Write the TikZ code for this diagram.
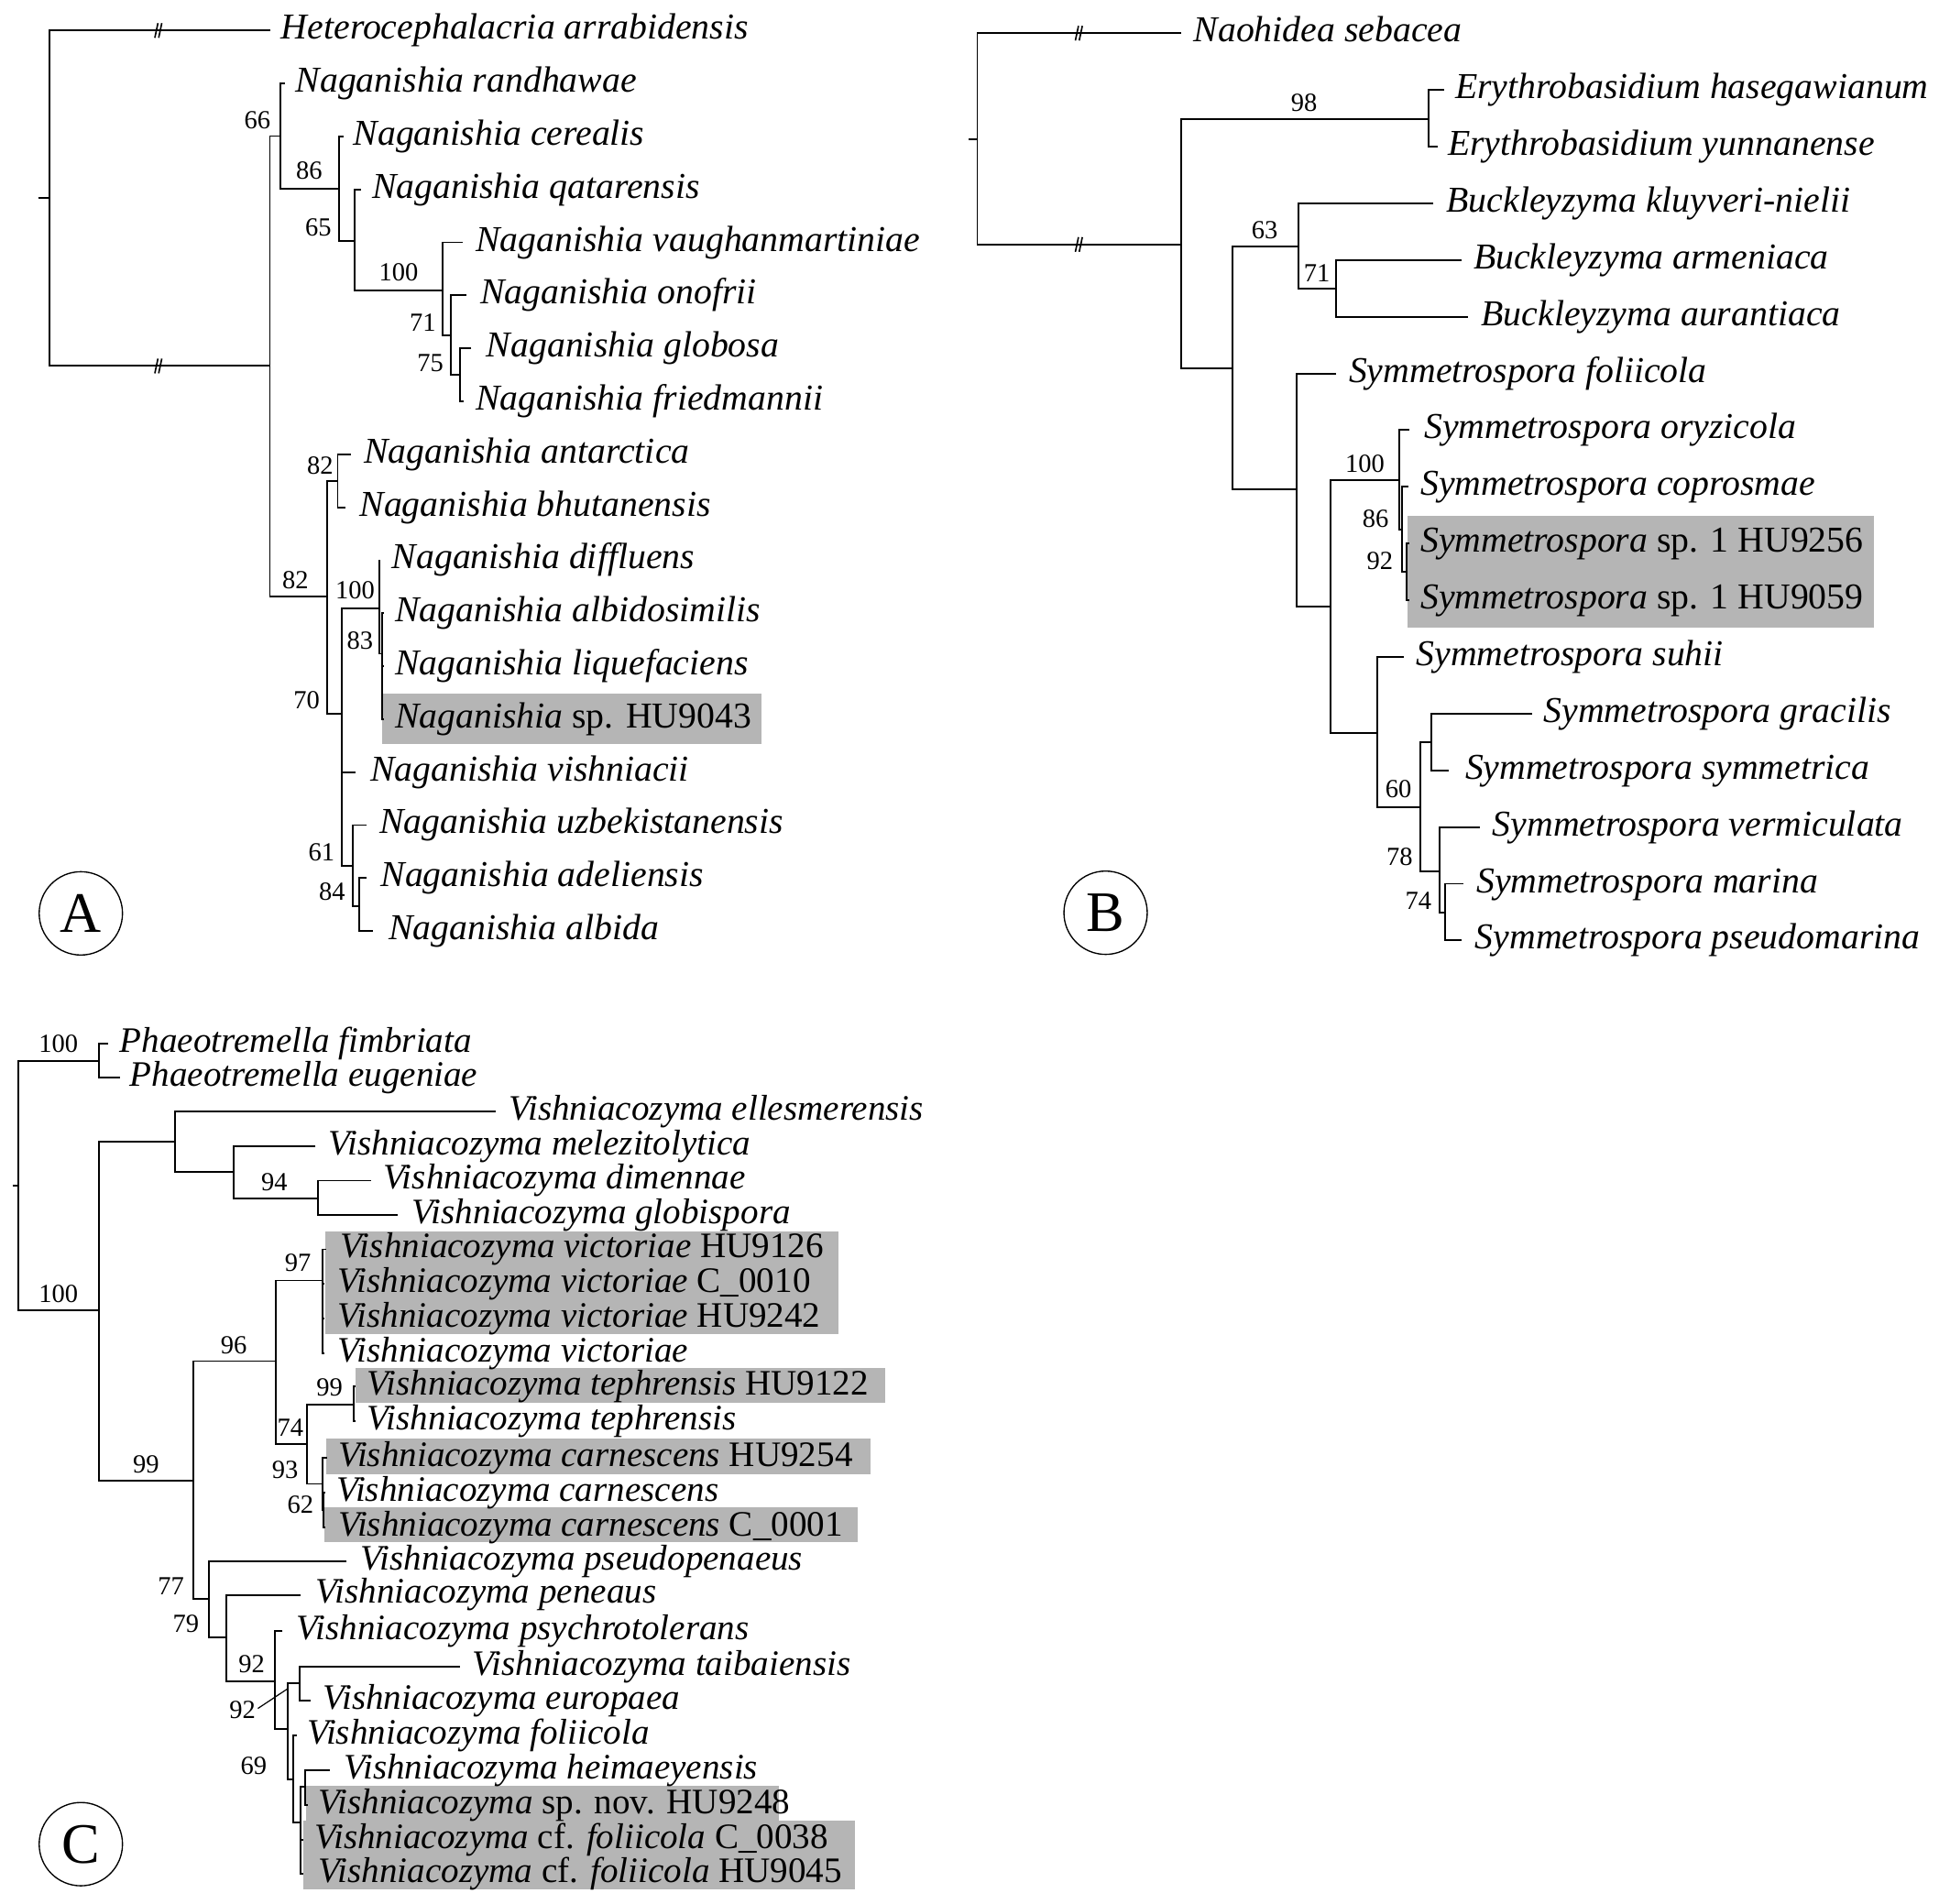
\documentclass[tikz,border=0pt]{standalone}
\usepackage{fontspec}
\setmainfont{Liberation Serif}
\begin{document}
\begin{tikzpicture}[x=1pt,y=-1pt,
  br/.style={line width=1.4pt},
  tA/.style={anchor=west, inner sep=0pt, font=\fontsize{29.3}{32}\selectfont\itshape, text height=20.5pt, text depth=6.5pt},
  tC/.style={anchor=west, inner sep=0pt, font=\fontsize{28.8}{30}\selectfont\itshape, text height=20.2pt, text depth=6.3pt},
  bs/.style={inner sep=0pt, font=\fontsize{21}{22}\selectfont, text height=14.5pt, text depth=0pt},
  hl/.style={fill=black!29, draw=none},
  pnl/.style={circle, draw, line width=1pt, minimum size=67pt, inner sep=0pt, font=\fontsize{46}{48}\selectfont, text height=30.4pt, text depth=0pt},
  brk/.pic={\draw[line width=1.2pt] (-2.8,5.9) -- (-0.3,-5.9); \draw[line width=1.2pt] (0.3,5.9) -- (2.8,-5.9);}
]
\useasboundingbox (0,0) rectangle (1568,1531);

% ---------------- highlight boxes ----------------
\fill[hl] (307.5,557.5) rectangle (612.5,598);
\fill[hl] (1132,415) rectangle (1507,505);
\fill[hl] (261.6,990.4) rectangle (674.4,1073);
\fill[hl] (285.8,1100) rectangle (712,1127.8);
\fill[hl] (262.3,1157) rectangle (700.3,1185.7);
\fill[hl] (260.9,1212.4) rectangle (690,1240.2);
\fill[hl] (246.1,1435.8) rectangle (626,1464);
\fill[hl] (243.7,1464) rectangle (687.1,1519.3);

% ================= PANEL A =================
\coordinate (aR) at (39.8,159.4);
\coordinate (aRt) at (30.7,159.4);
\coordinate (aHet) at (217.4,24.5);
\coordinate (a1) at (217,294.3);
\coordinate (a66) at (225.5,109.4);
\coordinate (aRan) at (229,67.1);
\coordinate (a86) at (272.5,151.7);
\coordinate (aCer) at (276,109.7);
\coordinate (a65) at (285,193.5);
\coordinate (aQat) at (290,152.3);
\coordinate (a100) at (356,233.5);
\coordinate (aVau) at (372,194.9);
\coordinate (a71) at (362.5,270);
\coordinate (aOno) at (375,237.5);
\coordinate (a75) at (370,301.4);
\coordinate (aGlo) at (379,280.1);
\coordinate (aFri) at (372.5,322.7);
\coordinate (a82) at (262.8,479.5);
\coordinate (a82u) at (271.5,386.6);
\coordinate (aAnt) at (282,365.3);
\coordinate (aBhu) at (277.5,407.9);
\coordinate (a70) at (275.1,574.3);
\coordinate (a100b) at (305.1,489.3);
\coordinate (aDif) at (305.1,450.5);
\coordinate (a83) at (307.5,525.7);
\coordinate (aAlb) at (308.5,493.1);
\coordinate (aLiq) at (308.5,535.7);
\coordinate (aHU) at (308.5,578.3);
\coordinate (aVis) at (286,620.9);
\coordinate (a61) at (284,696);
\coordinate (aUzb) at (295,663.5);
\coordinate (a84) at (289,728.5);
\coordinate (aAde) at (295,706.1);
\coordinate (aAlbi) at (300,748.7);

\draw[br] (aHet) -| (aR) |- (a1);
\draw[br] (aRt) -- (aR);
\draw[br] (a66) -| (a1) |- (a82);
\draw[br] (aRan) -| (a66) |- (a86);
\draw[br] (aCer) -| (a86) |- (a65);
\draw[br] (aQat) -| (a65) |- (a100);
\draw[br] (aVau) -| (a100) |- (a71);
\draw[br] (aOno) -| (a71) |- (a75);
\draw[br] (aGlo) -| (a75) |- (aFri);
\draw[br] (a82u) -| (a82) |- (a70);
\draw[br] (aAnt) -| (a82u) |- (aBhu);
\draw[br] (a100b) -| (a70) |- (a61);
\draw[br] (a70 |- aVis) -- (aVis);
\draw[br] (aDif) -| (a100b) |- (a83);
\draw[br] (aAlb) -| (a83) |- (aHU);
\draw[br] (a83 |- aLiq) -- (aLiq);
\draw[br] (aUzb) -| (a61) |- (a84);
\draw[br] (aAde) -| (a84) |- (aAlbi);
\pic at (127.3,24.5) {brk};
\pic at (127.3,294.3) {brk};

\node[tA] (lHet) at (226,24.5) {Heterocephalacria arrabidensis};
\node[tA] (lRan) at (237.5,67.1) {Naganishia randhawae};
\node[tA] (lCer) at (284,109.7) {Naganishia cerealis};
\node[tA] (lQat) at (299,152.3) {Naganishia qatarensis};
\node[tA] (lVau) at (382.5,194.9) {Naganishia vaughanmartiniae};
\node[tA] (lOno) at (386,237.5) {Naganishia onofrii};
\node[tA] (lGlo) at (391,280.1) {Naganishia globosa};
\node[tA] (lFri) at (382.5,322.7) {Naganishia friedmannii};
\node[tA] (lAnt) at (292.5,365.3) {Naganishia antarctica};
\node[tA] (lBhu) at (289,407.9) {Naganishia bhutanensis};
\node[tA] (lDif) at (315,450.5) {Naganishia diffluens};
\node[tA] (lAlb) at (317.5,493.1) {Naganishia albidosimilis};
\node[tA] (lLiq) at (317.5,535.7) {Naganishia liquefaciens};
\node[tA] (lHU) at (317.5,578.3) {Naganishia \upshape sp. HU9043};
\node[tA] (lVis) at (297.5,620.9) {Naganishia vishniacii};
\node[tA] (lUzb) at (305,663.5) {Naganishia uzbekistanensis};
\node[tA] (lAde) at (306,706.1) {Naganishia adeliensis};
\node[tA] (lAlbi) at (312.5,748.7) {Naganishia albida};

\node[bs] (sA1) at (207,96.5) {66};
\node[bs] (sA2) at (248.5,137) {86};
\node[bs] (sA3) at (256,182.5) {65};
\node[bs] (sA4) at (320.5,218.5) {100};
\node[bs] (sA5) at (340,259) {71};
\node[bs] (sA6) at (346,291.5) {75};
\node[bs] (sA7) at (257.5,374) {82};
\node[bs] (sA8) at (237.5,466.5) {82};
\node[bs] (sA9) at (285.5,474.5) {100};
\node[bs] (sA10) at (289.5,515) {83};
\node[bs] (sA11) at (246.5,563) {70};
\node[bs] (sA12) at (258.5,685) {61};
\node[bs] (sA13) at (267,717) {84};
\node[pnl] (pA) at (65,734.5) {A};

% ================= PANEL B =================
\coordinate (bR) at (785.8,111.7);
\coordinate (bRt) at (779,111.7);
\coordinate (bNao) at (949.5,26.7);
\coordinate (b1) at (949.5,196.6);
\coordinate (b98) at (1149,96);
\coordinate (bHas) at (1161,72.3);
\coordinate (bYun) at (1156,117.9);
\coordinate (b2) at (991,296.5);
\coordinate (b63) at (1044,198.5);
\coordinate (bKlu) at (1152.6,163.5);
\coordinate (b71) at (1074.4,232.3);
\coordinate (bArm) at (1175.6,209.1);
\coordinate (bAur) at (1180.6,254.7);
\coordinate (b3) at (1042.6,393.6);
\coordinate (bFol) at (1074.4,300.3);
\coordinate (b4) at (1069.7,487.7);
\coordinate (b100) at (1125,386.2);
\coordinate (bOry) at (1133,345.9);
\coordinate (b86) at (1127.5,426);
\coordinate (bCop) at (1132.4,391.5);
\coordinate (b92) at (1131,460);
\coordinate (bH56) at (1133,437.1);
\coordinate (bH59) at (1133,482.7);
\coordinate (b5) at (1107.7,589.3);
\coordinate (bSuh) at (1128.5,528.3);
\coordinate (b60) at (1142.4,649);
\coordinate (b6) at (1151,597);
\coordinate (bGra) at (1231.8,573.9);
\coordinate (bSym) at (1165,619.5);
\coordinate (b78) at (1157.6,700.4);
\coordinate (bVer) at (1190,665.1);
\coordinate (b74) at (1161.7,734);
\coordinate (bMar) at (1176.6,710.7);
\coordinate (bPse) at (1175.6,756.3);

\draw[br] (bNao) -| (bR) |- (b1);
\draw[br] (bRt) -- (bR);
\draw[br] (b98) -| (b1) |- (b2);
\draw[br] (bHas) -| (b98) |- (bYun);
\draw[br] (b63) -| (b2) |- (b3);
\draw[br] (bKlu) -| (b63) |- (b71);
\draw[br] (bArm) -| (b71) |- (bAur);
\draw[br] (bFol) -| (b3) |- (b4);
\draw[br] (b100) -| (b4) |- (b5);
\draw[br] (bOry) -| (b100) |- (b86);
\draw[br] (bCop) -| (b86) |- (b92);
\draw[br] (bH56) -| (b92) |- (bH59);
\draw[br] (bSuh) -| (b5) |- (b60);
\draw[br] (b6) -| (b60) |- (b78);
\draw[br] (bGra) -| (b6) |- (bSym);
\draw[br] (bVer) -| (b78) |- (b74);
\draw[br] (bMar) -| (b74) |- (bPse);
\pic at (867.5,26.7) {brk};
\pic at (867.5,196.6) {brk};

\node[tA] (lNao) at (959.6,26.7) {Naohidea sebacea};
\node[tA] (lHas) at (1170,72.3) {Erythrobasidium hasegawianum};
\node[tA] (lYun) at (1164,117.9) {Erythrobasidium yunnanense};
\node[tA] (lKlu) at (1163,163.5) {Buckleyzyma kluyveri-nielii};
\node[tA] (lArm) at (1184.7,209.1) {Buckleyzyma armeniaca};
\node[tA] (lAur) at (1191,254.7) {Buckleyzyma aurantiaca};
\node[tA] (lFol) at (1084.5,300.3) {Symmetrospora foliicola};
\node[tA] (lOry) at (1145,345.9) {Symmetrospora oryzicola};
\node[tA] (lCop) at (1142,391.5) {Symmetrospora coprosmae};
\node[tA] (lH56) at (1142,437.1) {Symmetrospora \upshape sp. 1 HU9256};
\node[tA] (lH59) at (1142,482.7) {Symmetrospora \upshape sp. 1 HU9059};
\node[tA] (lSuh) at (1138.6,528.3) {Symmetrospora suhii};
\node[tA] (lGra) at (1241,573.9) {Symmetrospora gracilis};
\node[tA] (lSym) at (1178,619.5) {Symmetrospora symmetrica};
\node[tA] (lVer) at (1200,665.1) {Symmetrospora vermiculata};
\node[tA] (lMar) at (1187,710.7) {Symmetrospora marina};
\node[tA] (lPse) at (1186,756.3) {Symmetrospora pseudomarina};

\node[bs] (sB1) at (1048.6,82.5) {98};
\node[bs] (sB2) at (1017,184.5) {63};
\node[bs] (sB3) at (1059,219.5) {71};
\node[bs] (sB4) at (1097.5,372.5) {100};
\node[bs] (sB5) at (1106,416.5) {86};
\node[bs] (sB6) at (1109.5,450.5) {92};
\node[bs] (sB7) at (1124.5,634.5) {60};
\node[bs] (sB8) at (1125.5,689) {78};
\node[bs] (sB9) at (1140.5,724) {74};
\node[pnl] (pB) at (889,734) {B};

% ================= PANEL C =================
\coordinate (cR) at (15,953.7);
\coordinate (cRt) at (10,953.7);
\coordinate (c100a) at (79.9,853.3);
\coordinate (cFim) at (87,839.4);
\coordinate (cEug) at (96.3,866.3);
\coordinate (c100b) at (79.9,1054);
\coordinate (c1) at (141,918);
\coordinate (cEll) at (398.5,894);
\coordinate (c2) at (188,942.6);
\coordinate (cMel) at (253.8,921.7);
\coordinate (c94) at (256,964);
\coordinate (cDim) at (298.4,949.4);
\coordinate (cGlb) at (319.6,976.8);
\coordinate (c99) at (155.5,1191);
\coordinate (c96) at (222,1094.6);
\coordinate (c97) at (259.2,1029.7);
\coordinate (cV1) at (262,1004.7);
\coordinate (cV2) at (260.5,1032.5);
\coordinate (cV3) at (260.5,1060.4);
\coordinate (cV4) at (260.5,1088.2);
\coordinate (c74) at (246.9,1161);
\coordinate (c99t) at (284.3,1129.5);
\coordinate (cT1) at (286,1114.8);
\coordinate (cT2) at (286,1143);
\coordinate (c93) at (259.2,1193.3);
\coordinate (cCa1) at (262.8,1172.2);
\coordinate (c62) at (260.4,1214.7);
\coordinate (cCa2) at (261.5,1200);
\coordinate (cCa3) at (261.5,1228.2);
\coordinate (c77) at (167.8,1286);
\coordinate (cPsp) at (278.8,1255.7);
\coordinate (c79) at (182.3,1316.4);
\coordinate (cPen) at (242,1282.5);
\coordinate (c92u) at (221,1352);
\coordinate (cPsy) at (227.2,1311.7);
\coordinate (c92l) at (231.4,1390.3);
\coordinate (cte) at (240.7,1353.8);
\coordinate (cTai) at (369.7,1340);
\coordinate (cEur) at (250,1367.7);
\coordinate (c69) at (236,1430.9);
\coordinate (cFol) at (238.7,1395.7);
\coordinate (cG) at (242,1465.3);
\coordinate (cH) at (245.6,1437);
\coordinate (cHei) at (265.3,1423.5);
\coordinate (cSpn) at (247.5,1451.5);
\coordinate (cC38) at (244,1479.3);
\coordinate (cH45) at (244,1507);
\coordinate (cPt) at (230.9,1358.3);

\draw[br] (c100a) -| (cR) |- (c100b);
\draw[br] (cRt) -- (cR);
\draw[br] (cFim) -| (c100a) |- (cEug);
\draw[br] (c1) -| (c100b) |- (c99);
\draw[br] (cEll) -| (c1) |- (c2);
\draw[br] (cMel) -| (c2) |- (c94);
\draw[br] (cDim) -| (c94) |- (cGlb);
\draw[br] (c96) -| (c99) |- (c77);
\draw[br] (c97) -| (c96) |- (c74);
\draw[br] (cV1) -| (c97) |- (cV4);
\draw[br] (c97 |- cV2) -- (cV2);
\draw[br] (c97 |- cV3) -- (cV3);
\draw[br] (c99t) -| (c74) |- (c93);
\draw[br] (cT1) -| (c99t) |- (cT2);
\draw[br] (cCa1) -| (c93) |- (c62);
\draw[br] (cCa2) -| (c62) |- (cCa3);
\draw[br] (cPsp) -| (c77) |- (c79);
\draw[br] (cPen) -| (c79) |- (c92u);
\draw[br] (cPsy) -| (c92u) |- (c92l);
\draw[br] (cte) -| (c92l) |- (c69);
\draw[br] (cTai) -| (cte) |- (cEur);
\draw[br] (cFol) -| (c69) |- (cG);
\draw[br] (cH) -| (cG) |- (cH45);
\draw[br] (cG |- cC38) -- (cC38);
\draw[br] (cHei) -| (cH) |- (cSpn);

\node[tC] (lFim) at (96.3,839.4) {Phaeotremella fimbriata};
\node[tC] (lEug) at (104.3,866.3) {Phaeotremella eugeniae};
\node[tC] (lEll) at (409,894) {Vishniacozyma ellesmerensis};
\node[tC] (lMel) at (264,921.7) {Vishniacozyma melezitolytica};
\node[tC] (lDim) at (307.8,949.4) {Vishniacozyma dimennae};
\node[tC] (lGlb) at (331.3,976.8) {Vishniacozyma globispora};
\node[tC] (lV1) at (273.9,1004.7) {Vishniacozyma victoriae \upshape HU9126};
\node[tC] (lV2) at (271.4,1032.5) {Vishniacozyma victoriae \upshape C\_0010};
\node[tC] (lV3) at (271.4,1060.4) {Vishniacozyma victoriae \upshape HU9242};
\node[tC] (lV4) at (271.4,1088.2) {Vishniacozyma victoriae};
\node[tC] (lT1) at (295.2,1114.8) {Vishniacozyma tephrensis \upshape HU9122};
\node[tC] (lT2) at (295.2,1143) {Vishniacozyma tephrensis};
\node[tC] (lCa1) at (271.7,1172.2) {Vishniacozyma carnescens \upshape HU9254};
\node[tC] (lCa2) at (270.3,1200) {Vishniacozyma carnescens};
\node[tC] (lCa3) at (271.7,1228.2) {Vishniacozyma carnescens \upshape C\_0001};
\node[tC] (lPsp) at (290,1255.7) {Vishniacozyma pseudopenaeus};
\node[tC] (lPen) at (253.8,1282.5) {Vishniacozyma peneaus};
\node[tC] (lPsy) at (238.3,1311.7) {Vishniacozyma psychrotolerans};
\node[tC] (lTai) at (379.7,1340) {Vishniacozyma taibaiensis};
\node[tC] (lEur) at (259.4,1367.7) {Vishniacozyma europaea};
\node[tC] (lFol) at (246.7,1395.7) {Vishniacozyma foliicola};
\node[tC] (lHei) at (276.3,1423.5) {Vishniacozyma heimaeyensis};
\node[tC] (lSpn) at (256.1,1451.5) {Vishniacozyma \upshape sp. nov. HU9248};
\node[tC] (lC38) at (252.8,1479.3) {Vishniacozyma \upshape cf. \itshape foliicola \upshape C\_0038};
\node[tC] (lH45) at (256,1507) {Vishniacozyma \upshape cf. \itshape foliicola \upshape HU9045};

\node[bs] (sC1) at (47,839) {100};
\node[bs] (sC2) at (47,1040) {100};
\node[bs] (sC3) at (220.5,950) {94};
\node[bs] (sC4) at (239.5,1015) {97};
\node[bs] (sC5) at (188,1081.5) {96};
\node[bs] (sC6) at (117.5,1177.5) {99};
\node[bs] (sC7) at (265,1115.5) {99};
\node[bs] (sC8) at (233.5,1147.5) {74};
\node[bs] (sC9) at (229.3,1181.5) {93};
\node[bs] (sC10) at (241.5,1209.5) {62};
\node[bs] (sC11) at (137.5,1275) {77};
\node[bs] (sC12) at (149.5,1305.4) {79};
\node[bs] (sC13) at (202.4,1338) {92};
\node[bs] (sC14) at (195,1375) {92};
\node[bs] (sC15) at (204,1419.5) {69};
\draw[line width=0.9pt, shorten <=2pt] (sC14.east) -- (cPt);
\node[pnl] (pC) at (65,1483) {C};
\end{tikzpicture}
\end{document}
